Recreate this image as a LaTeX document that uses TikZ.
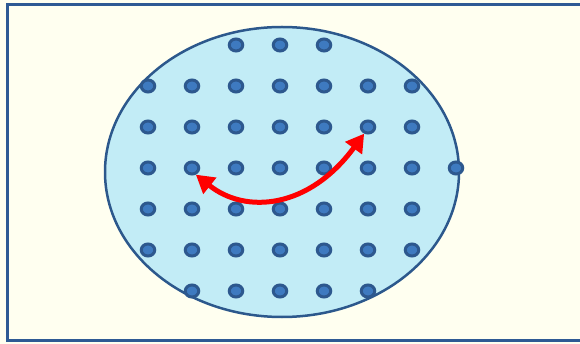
\documentclass[tikz,border=0pt]{standalone}
\usetikzlibrary{arrows.meta,shapes.geometric}
\definecolor{paper}{RGB}{255,255,240}
\definecolor{frameblue}{RGB}{46,90,148}
\definecolor{poolfill}{RGB}{194,236,246}
\definecolor{poolline}{RGB}{44,88,140}
\definecolor{dotrim}{RGB}{45,88,142}
\definecolor{dotcore}{RGB}{62,122,192}

\begin{document}
\begin{tikzpicture}[x=1pt, y=-1pt,
      frame/.style={draw=frameblue, line width=3pt, fill=paper},
      pool/.style={draw=poolline, line width=2.5pt, fill=poolfill},
      dot/.style={ellipse, draw=dotrim, fill=dotcore, line width=3pt,
        minimum width=13.5pt, minimum height=12pt, inner sep=0pt},
      swap/.style={draw=red, line width=5pt,
        {Triangle[length=18pt,width=20pt]}-{Triangle[length=18pt,width=20pt]}}]
  \clip (0,0) rectangle (580,344);
  \fill[paper] (0,0) rectangle (580,344);
  \draw[frame] (7,5) rectangle (600,340);
  \draw[pool] (282,172) ellipse [x radius=177, y radius=145];
  \foreach \r/\from/\to in {1/3/5, 2/1/7, 3/1/7, 4/1/8, 5/1/7, 6/1/7, 7/2/6}
    \foreach \c in {\from,...,\to}
      \node[dot] (d-\r-\c) at ({148+44*(\c-1)}, {45+41*(\r-1)}) {};
  \draw[swap] (d-4-2.-60) .. controls +(50,40) and +(-55,75) .. (d-3-6.-120);
\end{tikzpicture}
\end{document}
